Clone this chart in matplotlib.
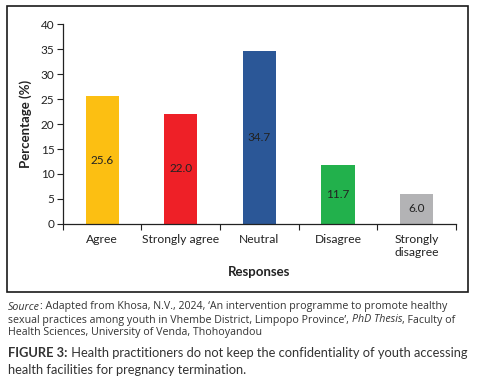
import matplotlib
matplotlib.use("Agg")
import matplotlib.pyplot as plt
from matplotlib.patches import Rectangle
import numpy as np

# data
categories = ["Agree", "Strongly agree", "Neutral", "Disagree", "Strongly\ndisagree"]
values = [25.6, 22.0, 34.7, 11.7, 6.0]
colors = ["#FCBF12", "#EE2027", "#2B5797", "#22B14C", "#B3B3B5"]
yticks = [0, 5, 10, 15, 20, 25, 30, 35, 40]

plt.rcParams["font.family"] = ["Lato", "DejaVu Sans"]

fig = plt.figure(figsize=(4.83, 3.86), dpi=100)

# frame round the chart
fig.patches.append(Rectangle((0.0145, 0.2435), 0.955, 0.741, transform=fig.transFigure,
                             fill=False, edgecolor="#1a1a1a", linewidth=1.2))

ax = fig.add_axes([0.130, 0.4197, 0.814, 0.5181])
x = np.arange(len(categories))
bars = ax.bar(x, values, width=0.42, color=colors)
for b, v in zip(bars, values):
    ax.text(b.get_x() + b.get_width() / 2, v / 2, f"{v:.1f}", ha="center", va="center",
            fontsize=8.5, color="#222222")

ax.set_xlim(-0.5, len(categories) - 0.5)
ax.set_ylim(0, 40)
ax.set_yticks(yticks)
ax.tick_params(axis="y", labelsize=8.5, length=4, colors="#222222", pad=2)
ax.set_xticks(np.arange(len(categories) + 1) - 0.5)
ax.set_xticklabels([])
ax.set_xticks(x, minor=True)
ax.set_xticklabels(categories, minor=True, fontsize=8.7, color="#222222")
ax.tick_params(axis="x", which="major", length=4, colors="#222222")
ax.tick_params(axis="x", which="minor", length=0, pad=7)
for s in ["top", "right"]:
    ax.spines[s].set_visible(False)
for s in ["left", "bottom"]:
    ax.spines[s].set_color("#222222")
    ax.spines[s].set_linewidth(0.9)

ax.set_ylabel("Percentage (%)", fontsize=9.5, fontweight="bold", color="#222222", labelpad=6)
ax.set_xlabel("Responses", fontsize=9.5, fontweight="bold", color="#222222", labelpad=6)

# source note, pieces chained so italics can sit inline
src_font = ["Open Sans", "DejaVu Sans"]
src_size = 7.7
src_col = "#333333"
t = fig.text(0.017, 1 - 307 / 386, "Source", fontsize=src_size, style="italic", color=src_col,
             va="center", family=src_font)
t = ax.annotate(": Adapted from Khosa, N.V., 2024, \u2018An intervention programme to promote healthy",
                xy=(1, 0), xycoords=t, xytext=(-0.4, 0), textcoords="offset points",
                va="bottom", fontsize=src_size, color=src_col, family=src_font)
t = fig.text(0.017, 1 - 320 / 386, "sexual practices among youth in Vhembe District, Limpopo Province\u2019, ",
             fontsize=src_size, color=src_col, va="center", family=src_font)
t = ax.annotate("PhD Thesis", xy=(1, 0), xycoords=t, va="bottom", fontsize=src_size,
                style="italic", color=src_col, family=src_font)
t = ax.annotate(", Faculty of", xy=(1, 0), xycoords=t, xytext=(-0.4, 0), textcoords="offset points",
                va="bottom", fontsize=src_size, color=src_col, family=src_font)
fig.text(0.017, 1 - 333 / 386, "Health Sciences, University of Venda, Thohoyandou",
         fontsize=src_size, color=src_col, va="center", family=src_font)

cap_size = 9.3
t = fig.text(0.017, 1 - 353 / 386, "FIGURE 3:", fontsize=cap_size, fontweight="bold",
             color="#333333", va="center")
ax.annotate(" Health practitioners do not keep the confidentiality of youth accessing",
            xy=(1, 0), xycoords=t, va="bottom", fontsize=cap_size, color="#333333")
fig.text(0.017, 1 - 370 / 386, "health facilities for pregnancy termination.",
         fontsize=cap_size, color="#333333", va="center")

fig.savefig("out.png", dpi=100)
